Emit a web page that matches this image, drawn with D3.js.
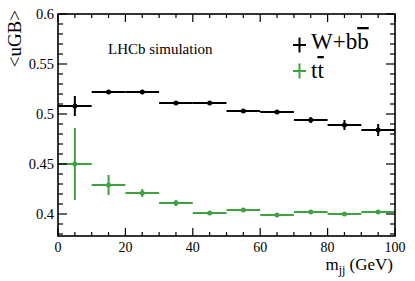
<!DOCTYPE html>
<html>
<head>
<meta charset="utf-8">
<script src="https://cdn.jsdelivr.net/npm/d3@7"></script>
<style>
body { margin: 0; background: #fff; }
</style>
</head>
<body>
<div id="chart"></div>
<script>
var canvasWidth = 415;
var canvasHeight = 281;

// bin centres in m_jj (GeV), bin half-width 5
var binCenters = [5, 15, 25, 35, 45, 55, 65, 75, 85, 95];
var binHalf = 5;

var wbbValues = [0.508, 0.522, 0.522, 0.511, 0.511, 0.503, 0.502, 0.494, 0.489, 0.484];
var wbbErrors = [0.010, 0.001, 0.001, 0.001, 0.001, 0.001, 0.0015, 0.003, 0.005, 0.006];

var ttValues = [0.450, 0.429, 0.421, 0.411, 0.401, 0.404, 0.399, 0.402, 0.400, 0.402];
var ttErrors = [0.036, 0.010, 0.004, 0.003, 0.002, 0.002, 0.002, 0.002, 0.002, 0.002];

var xTicks = [0, 20, 40, 60, 80, 100];
var yTicks = [0.4, 0.45, 0.5, 0.55, 0.6];

var padLeft = 58, padRight = 395, padTop = 14, padBottom = 236;
var serif = "'Liberation Serif', 'Times New Roman', Times, serif";

var svg = d3.select("#chart")
    .append("svg")
    .attr("width", canvasWidth)
    .attr("height", canvasHeight)
    .attr("font-family", serif);

var x = d3.scaleLinear().domain([0, 100]).range([padLeft, padRight]);
var y = d3.scaleLinear().domain([0.378, 0.6]).range([padBottom, padTop]);

var minorX = d3.range(0, 101, 5);
var minorY = d3.range(38, 61, 1).map(function(v){ return v / 100 });

// data series
function drawSeries(values, errors, color) {
    var g = svg.append("g");
    g.selectAll(".hbar").data(binCenters).join("line")
        .attr("class", "hbar")
        .attr("x1", function(d){ return x(d - binHalf) })
        .attr("x2", function(d){ return x(d + binHalf) })
        .attr("y1", function(d, i){ return y(values[i]) })
        .attr("y2", function(d, i){ return y(values[i]) })
        .attr("stroke", color).attr("stroke-width", 2);
    g.selectAll(".vbar").data(binCenters).join("line")
        .attr("class", "vbar")
        .attr("x1", function(d){ return x(d) })
        .attr("x2", function(d){ return x(d) })
        .attr("y1", function(d, i){ return y(values[i] - errors[i]) })
        .attr("y2", function(d, i){ return y(values[i] + errors[i]) })
        .attr("stroke", color).attr("stroke-width", 2);
    g.selectAll("circle").data(binCenters).join("circle")
        .attr("cx", function(d){ return x(d) })
        .attr("cy", function(d, i){ return y(values[i]) })
        .attr("r", 2.5)
        .attr("fill", color);
}

var black = "#000000";
var green = "#3ea33e";
drawSeries(wbbValues, wbbErrors, black);
drawSeries(ttValues, ttErrors, green);

// frame
svg.append("rect")
    .attr("x", padLeft).attr("y", padTop)
    .attr("width", padRight - padLeft).attr("height", padBottom - padTop)
    .attr("fill", "none").attr("stroke", "#000").attr("stroke-width", 1.6);

// ticks on all four sides
minorX.forEach(function(v) {
    var len = v % 20 === 0 ? 8 : 4;
    svg.append("line").attr("x1", x(v)).attr("x2", x(v))
        .attr("y1", padBottom).attr("y2", padBottom - len)
        .attr("stroke", "#000").attr("stroke-width", 1.2);
    svg.append("line").attr("x1", x(v)).attr("x2", x(v))
        .attr("y1", padTop).attr("y2", padTop + len)
        .attr("stroke", "#000").attr("stroke-width", 1.2);
});

minorY.forEach(function(v) {
    var major = yTicks.some(function(t){ return Math.abs(t - v) < 1e-6 });
    var len = major ? 9 : 5;
    svg.append("line").attr("x1", padLeft).attr("x2", padLeft + len)
        .attr("y1", y(v)).attr("y2", y(v))
        .attr("stroke", "#000").attr("stroke-width", 1.2);
    svg.append("line").attr("x1", padRight).attr("x2", padRight - len)
        .attr("y1", y(v)).attr("y2", y(v))
        .attr("stroke", "#000").attr("stroke-width", 1.2);
});

// tick labels
svg.selectAll(".xlab").data(xTicks).join("text")
    .attr("class", "xlab")
    .attr("x", function(d){ return x(d) })
    .attr("y", 252)
    .attr("text-anchor", "middle")
    .attr("font-size", 14)
    .text(function(d){ return d });

svg.selectAll(".ylab").data(yTicks).join("text")
    .attr("class", "ylab")
    .attr("x", 54)
    .attr("y", function(d){ return y(d) + 5 })
    .attr("text-anchor", "end")
    .attr("font-size", 14.5)
    .text(function(d){ return d });

// axis titles
var xt = svg.append("text")
    .attr("x", padRight - 2).attr("y", 270)
    .attr("text-anchor", "end")
    .attr("font-size", 17);
xt.append("tspan").text("m");
xt.append("tspan").attr("dy", 4).attr("font-size", 12).text("jj");
xt.append("tspan").attr("dy", -4).text(" (GeV)");

svg.append("text")
    .attr("transform", "translate(21,10) rotate(-90)")
    .attr("text-anchor", "end")
    .attr("font-size", 19)
    .text("<uGB>");

svg.append("text")
    .attr("x", 108).attr("y", 54)
    .attr("font-size", 15)
    .text("LHCb simulation");

// legend
function legendEntry(cy, baseline, color, parts) {
    svg.append("line").attr("x1", 293).attr("x2", 306).attr("y1", cy).attr("y2", cy)
        .attr("stroke", color).attr("stroke-width", 2);
    svg.append("line").attr("x1", 299.5).attr("x2", 299.5).attr("y1", cy - 7.5).attr("y2", cy + 7.5)
        .attr("stroke", color).attr("stroke-width", 2);
    var t = svg.append("text").attr("x", 311).attr("y", baseline).attr("font-size", 23);
    parts.forEach(function(p) {
        var s = t.append("tspan").text(p.text);
        if (p.bar) s.style("text-decoration", "overline");
    });
}
legendEntry(45, 49, black, [{text: "W+b"}, {text: "b", bar: true}]);
legendEntry(71, 78, green, [{text: "t"}, {text: "t", bar: true}]);
</script>
</body>
</html>
